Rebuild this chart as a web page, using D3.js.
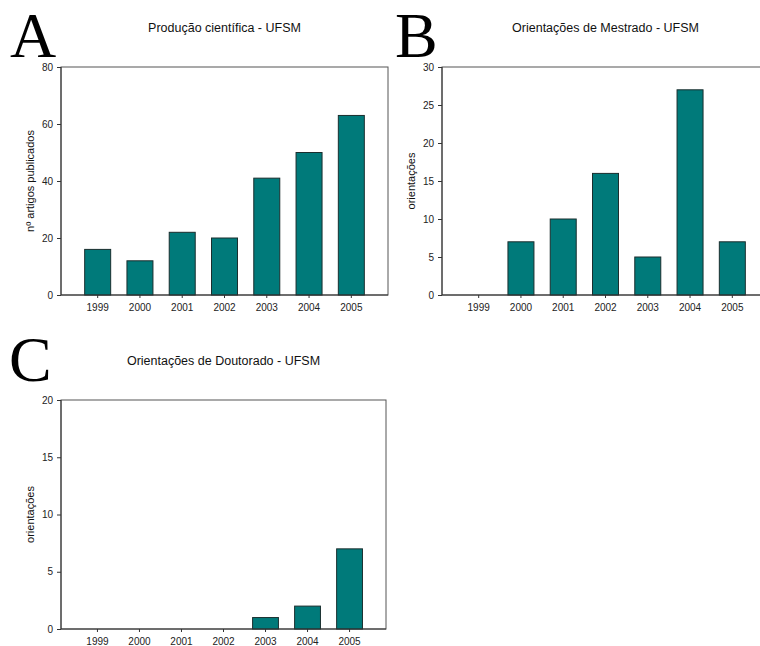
<!DOCTYPE html>
<html>
<head>
<meta charset="utf-8">
<script src="https://cdn.jsdelivr.net/npm/d3@7"></script>
<style>
  body { margin: 0; background: #fff; }
  svg { display: block; }
  .tick text { font-family: Arial, "Liberation Sans", sans-serif; font-size: 10px; fill: #222; }
</style>
</head>
<body>
<svg id="chart" width="760" height="646"></svg>
<script>
// data
const years = ["1999", "2000", "2001", "2002", "2003", "2004", "2005"];
const producao = [16, 12, 22, 20, 41, 50, 63];
const mestrado = [0, 7, 10, 16, 5, 27, 7];
const doutorado = [0, 0, 0, 0, 1, 2, 7];

const titles = ["Produção científica - UFSM", "Orientações de Mestrado - UFSM", "Orientações de Doutorado - UFSM"];
const yLabels = ["nº artigos publicados", "orientações", "orientações"];
const letters = ["A", "B", "C"];
const yMax = [80, 30, 20];
const yStep = [20, 5, 5];

const svg = d3.select("#chart");

// panel boxes (px)
const panels = [
  { left: 61, right: 388, top: 67, bottom: 295, lx: 10, ly: 57, values: producao },
  { left: 442, right: 769, top: 67, bottom: 295, lx: 395, ly: 57, values: mestrado },
  { left: 61, right: 386, top: 400, bottom: 629, lx: 9, ly: 381, values: doutorado }
];

panels.forEach((p, i) => {
  const g = svg.append("g");
  const x = d3.scaleBand().domain(years).range([p.left, p.right])
    .paddingInner(0.385).paddingOuter(0.56);
  const y = d3.scaleLinear().domain([0, yMax[i]]).range([p.bottom, p.top]);

  // frame
  g.append("rect")
    .attr("x", p.left).attr("y", p.top)
    .attr("width", p.right - p.left).attr("height", p.bottom - p.top)
    .attr("fill", "none").attr("stroke", "#555").attr("stroke-width", 1);

  const data = years.map((yr, k) => ({ yr: yr, v: p.values[k] }));
  g.selectAll("rect.bar")
    .data(data.filter(d => d.v > 0))
    .join("rect")
    .attr("class", "bar")
    .attr("x", d => x(d.yr))
    .attr("y", d => y(d.v))
    .attr("width", x.bandwidth())
    .attr("height", d => y(0) - y(d.v))
    .attr("fill", "#007a7a")
    .attr("stroke", "#1a2e2e")
    .attr("stroke-width", 1);

  const yAxis = g.append("g")
    .attr("transform", `translate(${p.left},0)`)
    .call(d3.axisLeft(y).tickValues(d3.range(0, yMax[i] + 1, yStep[i])).tickSize(4).tickPadding(4));
  const xAxis = g.append("g")
    .attr("transform", `translate(0,${p.bottom})`)
    .call(d3.axisBottom(x).tickSize(3).tickPadding(6).tickSizeOuter(0));
  [yAxis, xAxis].forEach(a => {
    a.select(".domain").attr("stroke", "#333");
    a.selectAll(".tick line").attr("stroke", "#333");
  });
  yAxis.select(".domain").attr("d", `M0,${p.top}V${p.bottom}`);
  xAxis.select(".domain").attr("d", `M${p.left},0H${p.right}`);

  // title
  g.append("text")
    .attr("x", (p.left + p.right) / 2)
    .attr("y", p.top - 35)
    .attr("text-anchor", "middle")
    .style("font-family", "Arial, 'Liberation Sans', sans-serif")
    .style("font-size", "12.5px")
    .attr("fill", "#111")
    .text(titles[i]);

  // y label
  g.append("text")
    .attr("transform", `translate(${p.left - 27},${(p.top + p.bottom) / 2}) rotate(-90)`)
    .attr("text-anchor", "middle")
    .style("font-family", "Arial, 'Liberation Sans', sans-serif")
    .style("font-size", "11px")
    .attr("fill", "#111")
    .text(yLabels[i]);

  // panel letter
  g.append("text")
    .attr("x", p.lx).attr("y", p.ly)
    .style("font-family", "'Liberation Serif', 'Times New Roman', serif")
    .style("font-size", "64px")
    .attr("fill", "#000")
    .text(letters[i]);
});
</script>
</body>
</html>
